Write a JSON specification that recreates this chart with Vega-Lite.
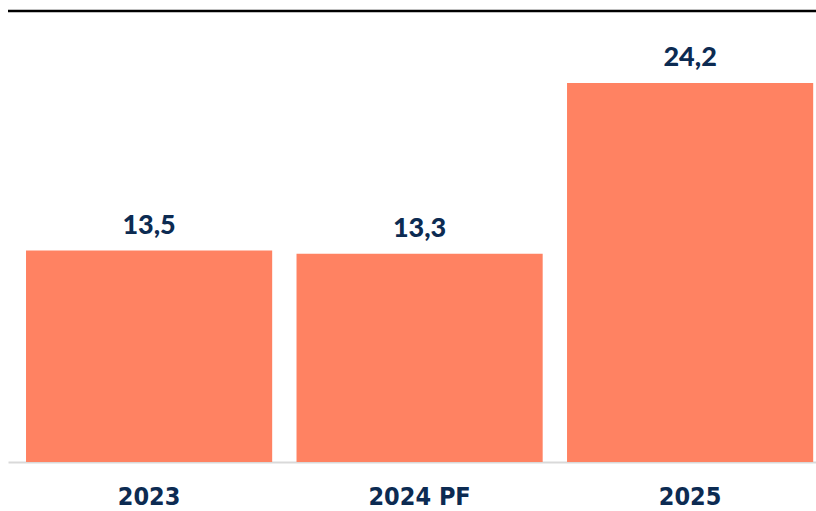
{
  "$schema": "https://vega.github.io/schema/vega-lite/v6.json",
  "autosize": "none",
  "width": 808,
  "height": 451,
  "padding": {"left": 8, "top": 11, "right": 0, "bottom": 49},
  "background": "white",
  "config": {"view": {"stroke": null}},
  "data": {
    "values": [
      {"year": "2023", "value": 13.5, "label": "13,5"},
      {"year": "2024 PF", "value": 13.3, "label": "13,3"},
      {"year": "2025", "value": 24.2, "label": "24,2"}
    ]
  },
  "layer": [
    {
      "encoding": {
        "x": {
          "field": "year",
          "type": "nominal",
          "sort": null,
          "scale": {"paddingInner": 0.09, "paddingOuter": 0.0385, "align": 0.865},
          "axis": {
            "title": null,
            "labelAngle": 0,
            "ticks": false,
            "domainColor": "#d9d9d9",
            "domainWidth": 2,
            "labelFont": "DejaVu Sans Condensed",
            "labelFontWeight": "bold",
            "labelFontSize": 25,
            "labelColor": "#0c2b52",
            "labelBaseline": "alphabetic",
            "labelPadding": 42
          }
        },
        "y": {
          "field": "value",
          "type": "quantitative",
          "scale": {"domain": [0, 28.8], "nice": false},
          "axis": null
        }
      },
      "layer": [
        {"mark": {"type": "bar", "color": "#ff8262"}},
        {
          "mark": {"type": "text", "baseline": "alphabetic", "dy": -17, "font": "Lato", "fontWeight": 900, "fontSize": 27, "color": "#0c2b52"},
          "encoding": {"text": {"field": "label"}}
        }
      ]
    },
    {
      "data": {"values": [{"top": 28.8}]},
      "mark": {"type": "rule", "color": "#000000", "strokeWidth": 2.5},
      "encoding": {"y": {"field": "top", "type": "quantitative"}}
    }
  ]
}
